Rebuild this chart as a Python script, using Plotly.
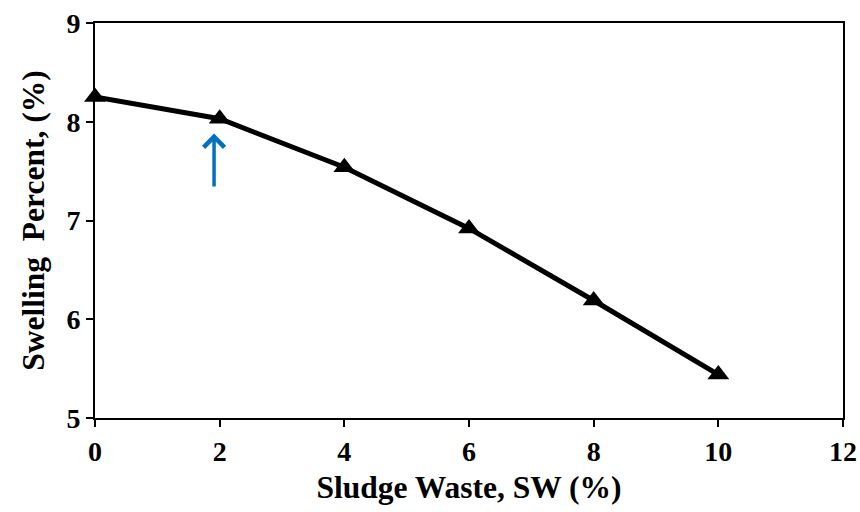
import plotly.graph_objects as go

sw_percent = [0, 2, 4, 6, 8, 10]
swelling = [8.25, 8.03, 7.54, 6.92, 6.19, 5.44]

x_ticks = [0, 2, 4, 6, 8, 10, 12]
y_ticks = [5, 6, 7, 8, 9]

arrow_x = 1.91
arrow_tail_y = 7.33
arrow_head_y = 7.88

serif = "'Liberation Serif', 'Times New Roman', Times, serif"
tick_size = 28
title_size = 31.5

fig = go.Figure()
fig.add_trace(go.Scatter(
    x=sw_percent, y=swelling, mode="lines+markers",
    line=dict(color="black", width=5),
    marker=dict(symbol="triangle-up", size=19, color="black"),
    cliponaxis=False,
    showlegend=False,
))

fig.add_annotation(
    x=arrow_x, y=arrow_head_y, ax=arrow_x, ay=arrow_tail_y,
    xref="x", yref="y", axref="x", ayref="y",
    text="", showarrow=True, arrowhead=4, arrowsize=1.15,
    arrowwidth=3.5, arrowcolor="#0070C0",
)

axis_common = dict(
    showgrid=False, zeroline=False, showline=True, linecolor="black",
    linewidth=2, ticks="outside", ticklen=7, tickwidth=1.5, tickcolor="black",
    mirror=True,
    tickfont=dict(family=serif, size=tick_size, color="black"),
)

fig.update_layout(
    template="none",
    width=860, height=512,
    margin=dict(l=95, r=17, t=23, b=94),
    plot_bgcolor="white", paper_bgcolor="white",
    font=dict(family=serif, color="black", size=tick_size),
    xaxis=dict(
        range=[0, 12], tickmode="array", tickvals=x_ticks,
        ticktext=["<b>%d</b>" % v for v in x_ticks],
        title=dict(text="<b>Sludge Waste, SW (%)</b>", standoff=10,
                   font=dict(family=serif, size=title_size, color="black")),
        **axis_common,
    ),
    yaxis=dict(
        range=[5, 9], tickmode="array", tickvals=y_ticks,
        ticktext=["<b>%d</b>" % v for v in y_ticks],
        title=dict(text="<b>Swelling&nbsp; Percent, (%)</b>", standoff=12,
                   font=dict(family=serif, size=title_size, color="black")),
        **axis_common,
    ),
)

fig.write_html("out.html")
